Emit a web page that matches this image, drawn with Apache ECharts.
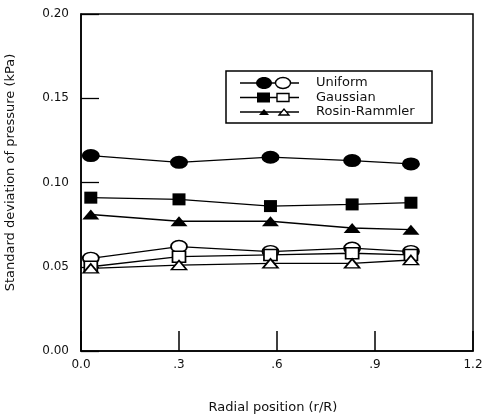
<!DOCTYPE html>
<html>
<head>
<meta charset="utf-8">
<script src="https://cdn.jsdelivr.net/npm/echarts@6/dist/echarts.min.js"></script>
<style>
  html, body { margin: 0; padding: 0; background: #fff; }
  #chart { width: 483px; height: 417px; }
</style>
</head>
<body>
<div id="chart"></div>
<script>
// radial position r/R of the measuring points
var radialPos = [0.03, 0.30, 0.58, 0.83, 1.01];
// filled symbols
var uniformFilled = [0.116, 0.112, 0.115, 0.113, 0.111];
var gaussianFilled = [0.091, 0.090, 0.086, 0.087, 0.088];
var rosinFilled = [0.081, 0.077, 0.077, 0.073, 0.072];
// open symbols
var uniformOpen = [0.055, 0.062, 0.059, 0.061, 0.059];
var gaussianOpen = [0.050, 0.056, 0.057, 0.058, 0.057];
var rosinOpen = [0.049, 0.051, 0.052, 0.052, 0.054];

var xTickLabels = {'0': '0.0', '0.3': '.3', '0.6': '.6', '0.9': '.9', '1.2': '1.2'};
var legendNames = ['Uniform', 'Gaussian', 'Rosin-Rammler'];

var font = '"DejaVu Sans", "Liberation Sans", Arial, sans-serif';

var pairs = function(ys) {
    var out = [];
    for (var i = 0; i < radialPos.length; i++) {
        out.push([radialPos[i], ys[i]]);
    }
    return out;
};

var mkSeries = function(name, ys, symbol, size, open) {
    return {
        name: name,
        type: 'line',
        data: pairs(ys),
        symbol: symbol,
        symbolSize: size,
        showAllSymbol: true,
        lineStyle: { color: '#000', width: 1.3 },
        itemStyle: open ? { color: '#fff', borderColor: '#000', borderWidth: 1.6 } : { color: '#000' },
        emphasis: { disabled: true },
        animation: false
    };
};

// legend drawn by hand: each row has a line with a filled and an open symbol
var legendGraphic = function() {
    var els = [{
        type: 'rect',
        shape: { x: 226, y: 71, width: 206, height: 52 },
        style: { fill: '#fff', stroke: '#000', lineWidth: 1.5 }
    }];
    var rows = [83, 97.5, 112];
    for (var i = 0; i < 3; i++) {
        var y = rows[i];
        els.push({ type: 'line', shape: { x1: 240, y1: y, x2: 299, y2: y }, style: { stroke: '#000', lineWidth: 1.3 } });
        if (i === 0) {
            els.push({ type: 'ellipse', shape: { cx: 264, cy: y, rx: 8, ry: 6 }, style: { fill: '#000' } });
            els.push({ type: 'ellipse', shape: { cx: 283, cy: y, rx: 7.5, ry: 5.5 }, style: { fill: '#fff', stroke: '#000', lineWidth: 1.4 } });
        } else if (i === 1) {
            els.push({ type: 'rect', shape: { x: 257, y: y - 5, width: 13, height: 10 }, style: { fill: '#000' } });
            els.push({ type: 'rect', shape: { x: 277, y: y - 4, width: 12, height: 8 }, style: { fill: '#fff', stroke: '#000', lineWidth: 1.4 } });
        } else {
            els.push({ type: 'polygon', shape: { points: [[259, y + 3], [264, y - 3], [269, y + 3]] }, style: { fill: '#000' } });
            els.push({ type: 'polygon', shape: { points: [[279, y + 3], [284, y - 3], [289, y + 3]] }, style: { fill: '#fff', stroke: '#000', lineWidth: 1.3 } });
        }
        els.push({
            type: 'text', x: 316, y: y,
            style: { text: legendNames[i], font: '13px ' + font, fill: '#111', verticalAlign: 'middle' }
        });
    }
    return els;
};

var chart = echarts.init(document.getElementById('chart'));
chart.setOption({
    backgroundColor: '#fff',
    animation: false,
    grid: {
        left: 81, right: 10, top: 14, bottom: 66,
        outerBoundsMode: 'none',
        show: true, borderColor: '#000', borderWidth: 1.5, backgroundColor: 'transparent'
    },
    xAxis: {
        type: 'value',
        min: 0, max: 1.2, interval: 0.3,
        name: 'Radial position (r/R)',
        nameLocation: 'middle',
        nameGap: 50,
        nameTextStyle: { fontFamily: font, fontSize: 13, color: '#111', padding: [0, 8, 0, 0] },
        axisLine: { show: true, lineStyle: { color: '#000', width: 1.5 } },
        axisTick: { show: true, inside: true, length: 20, lineStyle: { color: '#000', width: 1.5 } },
        axisLabel: {
            margin: 8, fontFamily: font, fontSize: 12, color: '#111',
            formatter: function(v) { return xTickLabels[String(Math.round(v * 10) / 10)] || ''; }
        },
        splitLine: { show: false }
    },
    yAxis: {
        type: 'value',
        min: 0, max: 0.2, interval: 0.05,
        name: 'Standard deviation of pressure (kPa)',
        nameLocation: 'middle',
        nameGap: 64,
        nameTextStyle: { fontFamily: font, fontSize: 13, color: '#111', padding: [0, 0, 0, 20] },
        axisLine: { show: true, lineStyle: { color: '#000', width: 1.5 } },
        axisTick: { show: true, inside: true, length: 18, lineStyle: { color: '#000', width: 1.3 } },
        axisLabel: {
            margin: 12, fontFamily: font, fontSize: 12, color: '#111',
            formatter: function(v) { return v.toFixed(2); }
        },
        splitLine: { show: false }
    },
    series: [
        mkSeries('Uniform', uniformFilled, 'circle', [18, 13], false),
        mkSeries('Gaussian', gaussianFilled, 'rect', [13, 12], false),
        mkSeries('Rosin-Rammler', rosinFilled, 'triangle', [17, 10], false),
        mkSeries('Uniform (open)', uniformOpen, 'circle', [16, 12], true),
        mkSeries('Gaussian (open)', gaussianOpen, 'rect', [13, 11], true),
        mkSeries('Rosin-Rammler (open)', rosinOpen, 'triangle', [15, 9], true)
    ],
    graphic: legendGraphic()
});
</script>
</body>
</html>
